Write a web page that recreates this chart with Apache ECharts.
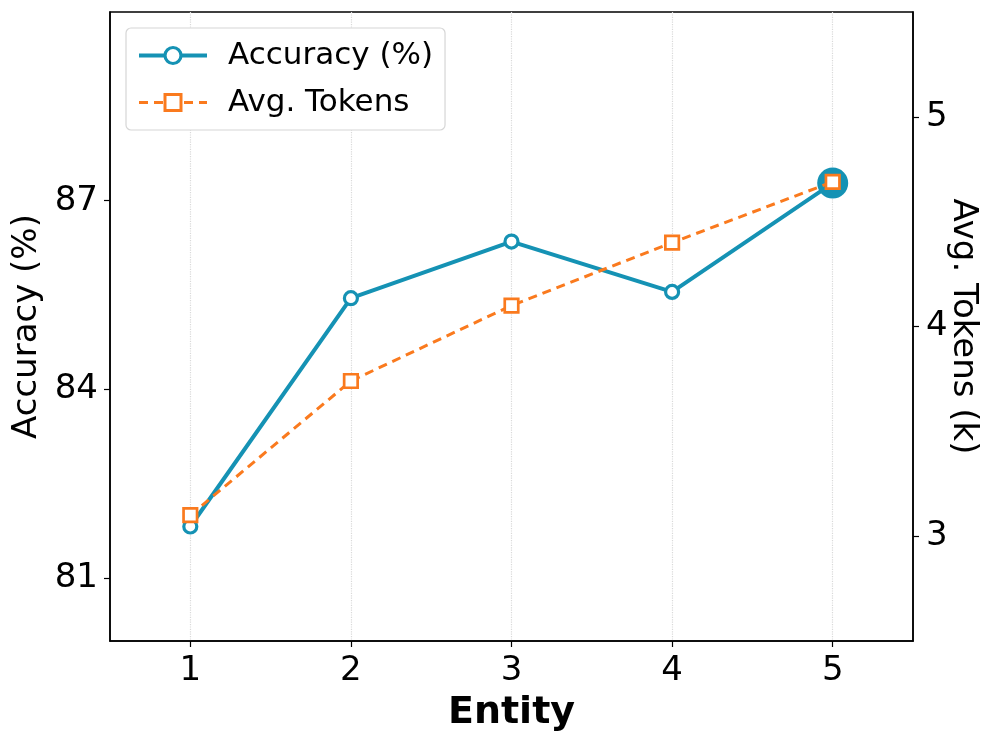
<!DOCTYPE html>
<html>
<head>
<meta charset="utf-8">
<script src="https://cdn.jsdelivr.net/npm/echarts@6/dist/echarts.min.js"></script>
<style>html,body{margin:0;padding:0;background:#fff}#c{width:996px;height:745px}</style>
</head>
<body>
<div id="c"></div>
<script>
const entities = [1, 2, 3, 4, 5];
const accuracy = [81.82, 85.45, 86.35, 85.55, 87.28];
const avgTokens = [3.10, 3.74, 4.10, 4.40, 4.69];
const accTicks = [81, 84, 87];
const tokTicks = [3, 4, 5];
const bestIndex = 4;

const TEAL = '#1592b4';
const ORANGE = '#fa7a1e';
const FONT = 'DejaVu Sans';

const chart = echarts.init(document.getElementById('c'), null, {renderer: 'canvas'});
chart.setOption({
  animation: false,
  backgroundColor: '#fff',
  textStyle: {fontFamily: FONT},
  grid: {left: 110, right: 83, top: 12, bottom: 104, outerBoundsMode: 'none', containLabel: false,
         show: true, borderColor: '#000', borderWidth: 1.5, backgroundColor: 'transparent'},
  legend: {
    orient: 'vertical', left: 126, top: 28,
    data: [
      {name: 'Accuracy (%)', lineStyle: {width: 4}, itemStyle: {borderWidth: 3.2}},
      {name: 'Avg. Tokens', lineStyle: {width: 3}, itemStyle: {borderWidth: 3}}
    ],
    itemWidth: 68, itemHeight: 20, itemGap: 16,
    padding: [12, 12, 12, 11],
    backgroundColor: '#fff', borderColor: '#d6d6d6', borderWidth: 1.2, borderRadius: 5,
    textStyle: {fontFamily: FONT, fontSize: 31, color: '#000', padding: [0, 0, 0, 16]}
  },
  xAxis: {
    type: 'value', min: 0.5, max: 5.5,
    name: 'Entity', nameLocation: 'middle', nameGap: 53,
    nameTextStyle: {fontFamily: FONT, fontSize: 38, fontWeight: 'bold', color: '#000'},
    axisLine: {show: true, lineStyle: {color: '#000', width: 1.5}},
    axisTick: {show: true, length: 6, lineStyle: {color: '#000', width: 1.2}, customValues: entities},
    axisLabel: {fontFamily: FONT, fontSize: 34, color: '#000', margin: 13, customValues: entities},
    splitLine: {show: true, lineStyle: {type: 'dotted', color: '#d9d9d9', width: 1.2}, customValues: entities}
  },
  yAxis: [{
    type: 'value', min: 80, max: 90, position: 'left',
    name: 'Accuracy (%)', nameLocation: 'middle', nameGap: 64,
    nameTextStyle: {fontFamily: FONT, fontSize: 34, color: '#000'},
    axisLine: {show: true, lineStyle: {color: '#000', width: 1.5}},
    axisTick: {show: true, length: 6, lineStyle: {color: '#000', width: 1.2}, customValues: accTicks},
    axisLabel: {fontFamily: FONT, fontSize: 34, color: '#000', margin: 12, customValues: accTicks},
    splitLine: {show: false}
  }, {
    type: 'value', min: 2.5, max: 5.5, position: 'right',
    name: 'Avg. Tokens (k)', nameLocation: 'middle', nameGap: 33, nameRotate: -90, nameMoveOverlap: false,
    nameTextStyle: {fontFamily: FONT, fontSize: 34, color: '#000'},
    axisLine: {show: true, lineStyle: {color: '#000', width: 1.5}},
    axisTick: {show: true, length: 6, lineStyle: {color: '#000', width: 1.2}, customValues: tokTicks},
    axisLabel: {fontFamily: FONT, fontSize: 34, color: '#000', margin: 13, customValues: tokTicks},
    splitLine: {show: false}
  }],
  series: [{
    name: 'Accuracy (%)', type: 'line', yAxisIndex: 0,
    data: entities.map((e, i) => [e, accuracy[i]]),
    symbol: 'circle', symbolSize: 13, showSymbol: true,
    lineStyle: {color: TEAL, width: 4},
    itemStyle: {color: '#fff', borderColor: TEAL, borderWidth: 3.2},
    z: 2
  }, {
    name: 'best', type: 'scatter', yAxisIndex: 0,
    data: [[entities[bestIndex], accuracy[bestIndex]]],
    symbol: 'circle', symbolSize: 31,
    itemStyle: {color: TEAL, opacity: 1},
    emphasis: {disabled: true},
    z: 3
  }, {
    name: 'Avg. Tokens', type: 'line', yAxisIndex: 1,
    data: entities.map((e, i) => [e, avgTokens[i]]),
    symbol: 'rect', symbolSize: 13.5, showSymbol: true,
    lineStyle: {color: ORANGE, width: 3, type: [9, 6]},
    itemStyle: {color: '#fff', borderColor: ORANGE, borderWidth: 2.7},
    z: 4
  }]
});
</script>
</body>
</html>
